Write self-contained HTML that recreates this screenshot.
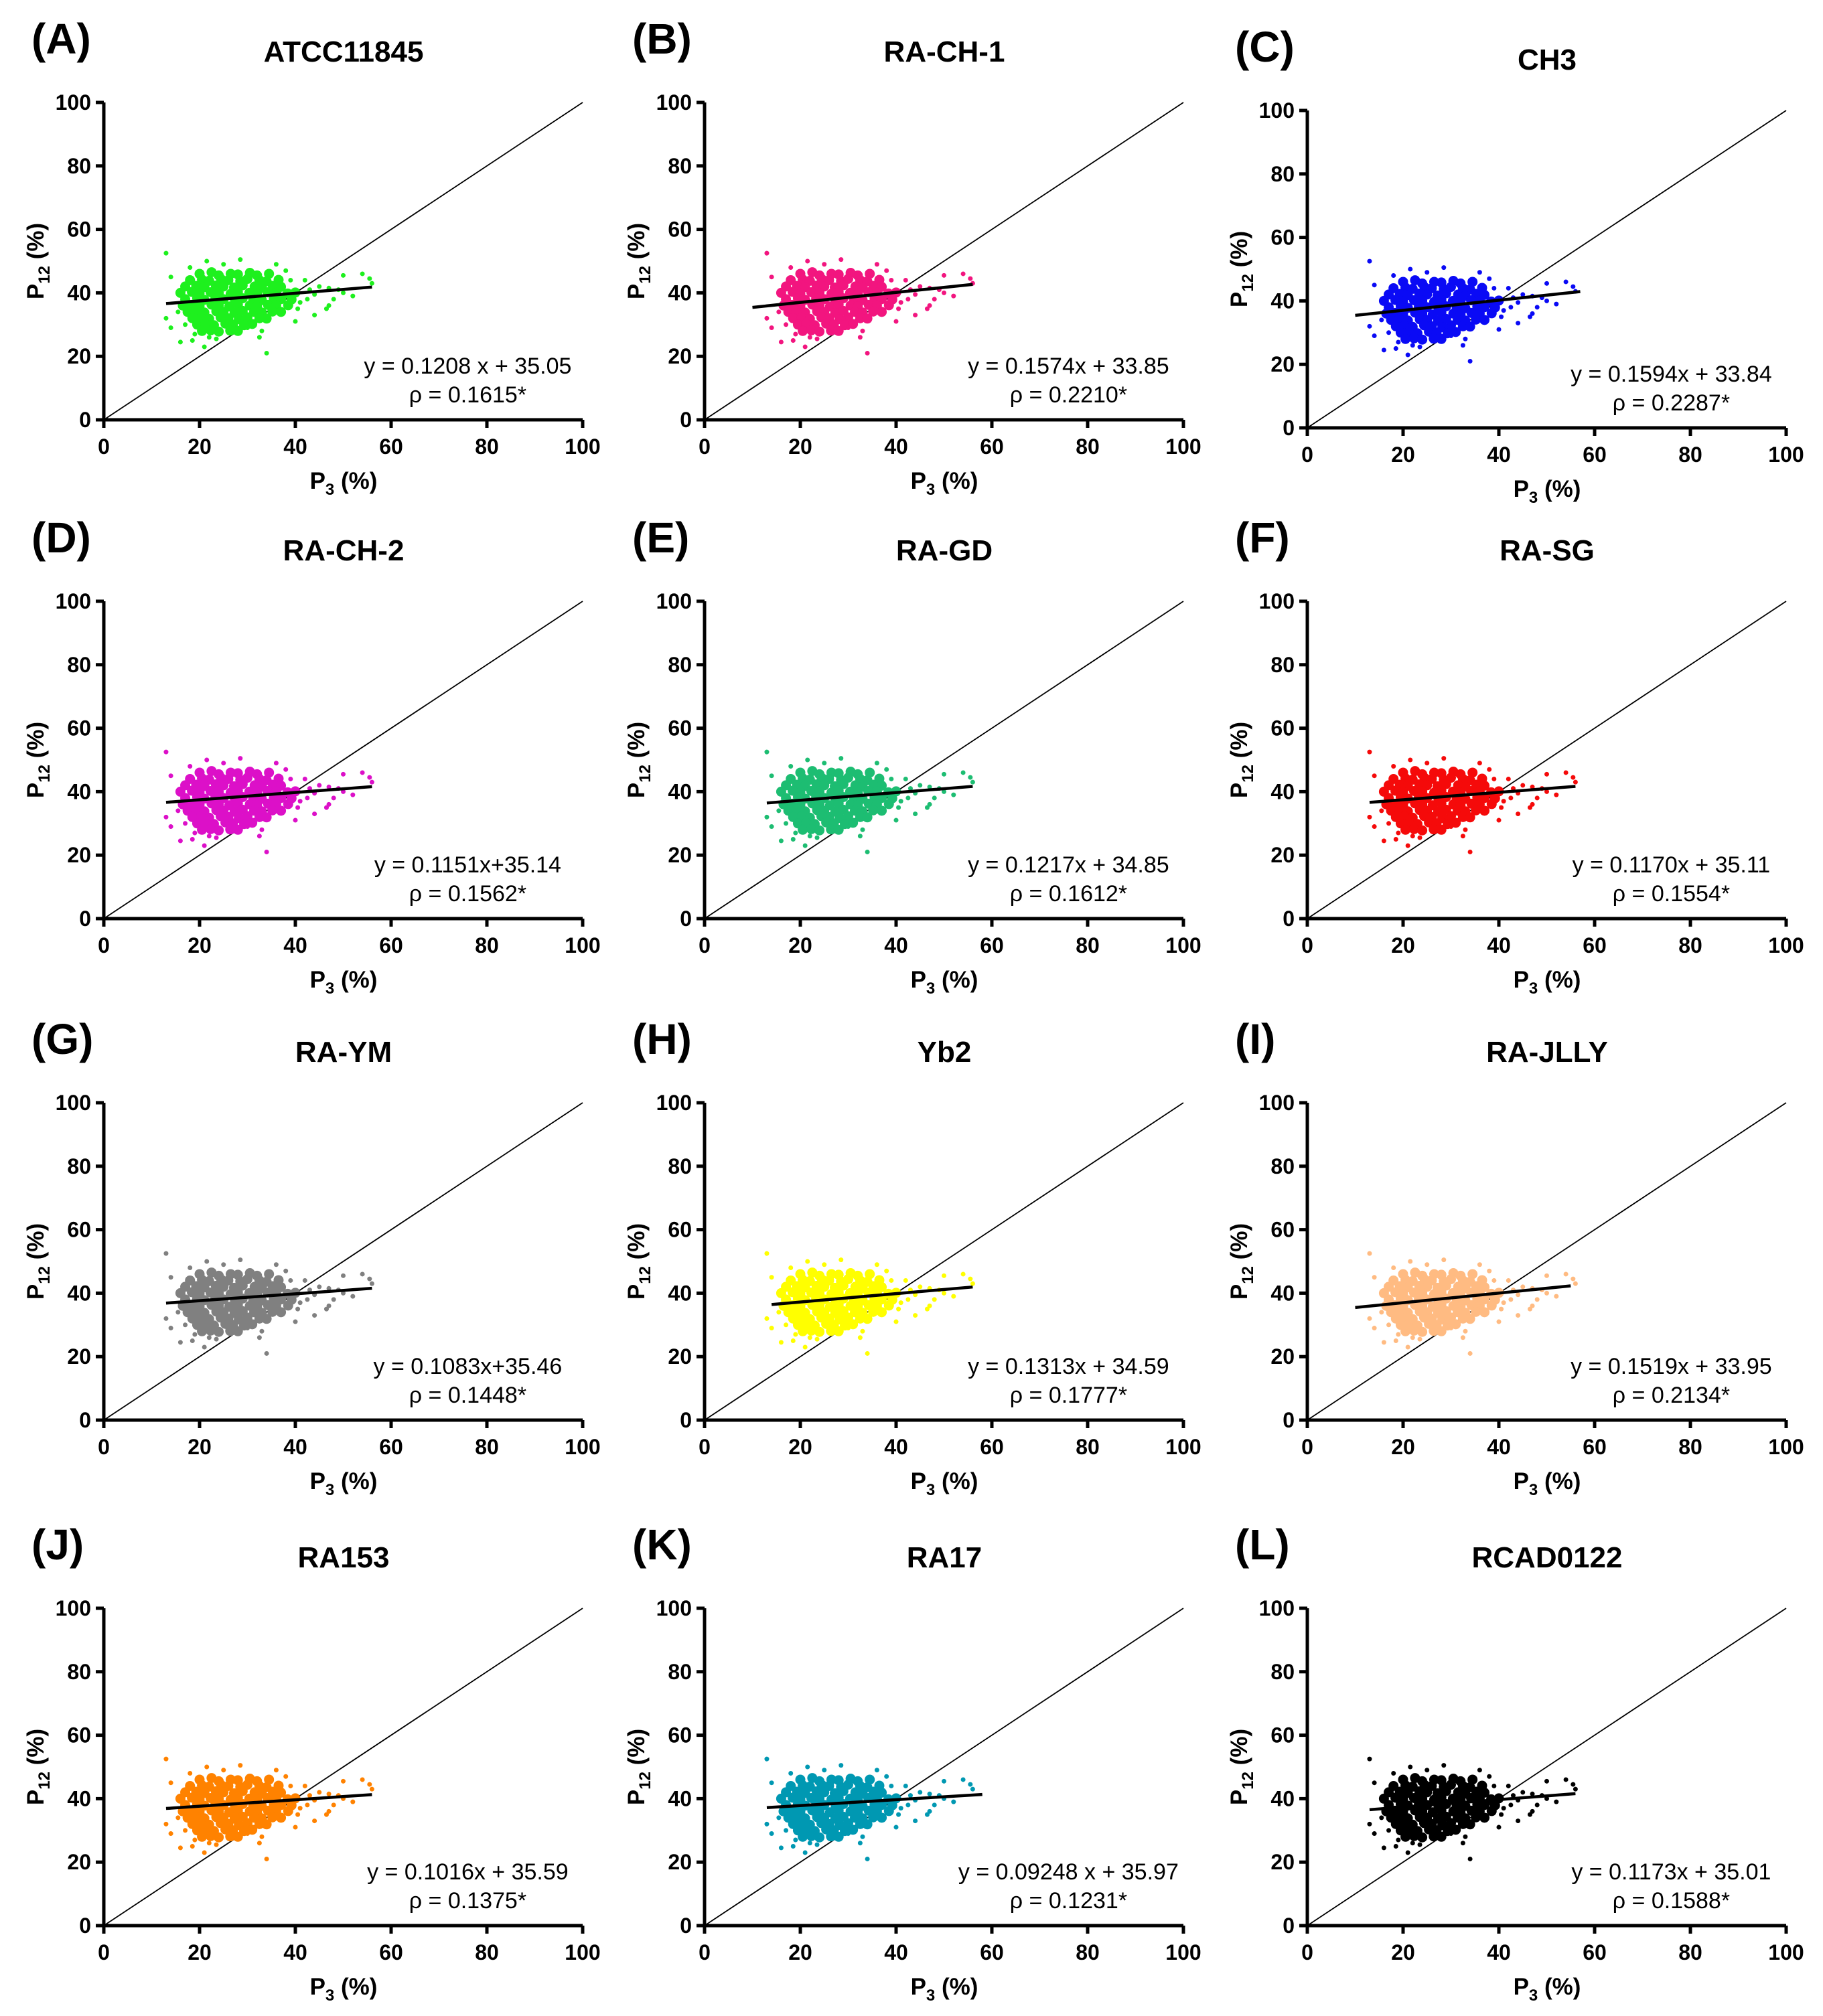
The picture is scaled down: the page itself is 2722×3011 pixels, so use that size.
<!DOCTYPE html>
<html><head><meta charset="utf-8"><style>
html,body{margin:0;padding:0;background:#fff}
svg{display:block}
text{font-family:"Liberation Sans",Arial,sans-serif}
</style></head><body>
<svg id="fig" width="2722" height="3011" viewBox="0 0 2722 3011" xmlns="http://www.w3.org/2000/svg"></svg>
<script>
const panelLetters=["A","B","C","D","E","F","G","H","I","J","K","L"];
const panelTitles=["ATCC11845","RA-CH-1","CH3","RA-CH-2","RA-GD","RA-SG","RA-YM","Yb2","RA-JLLY","RA153","RA17","RCAD0122"];
const panelColors=["#1ef01e","#f2157f","#0a0af5","#dc10c8","#1dbd72","#f50a0a","#808080","#ffff00","#ffbb82","#ff8200","#0098b2","#000000"];
const slopes=[0.1208,0.1574,0.1594,0.1151,0.1217,0.1170,0.1083,0.1313,0.1519,0.1016,0.09248,0.1173];
const intercepts=[35.05,33.85,33.84,35.14,34.85,35.11,35.46,34.59,33.95,35.59,35.97,35.01];
const fitMin=[13,10,10,13,13,13,13,14,10,13,13,13];
const fitMax=[56,56,57,56,56,56,56,56,55,56,58,56];
const eqLine1=["y = 0.1208 x + 35.05","y = 0.1574x + 33.85","y = 0.1594x + 33.84","y = 0.1151x+35.14","y = 0.1217x + 34.85","y = 0.1170x + 35.11","y = 0.1083x+35.46","y = 0.1313x + 34.59","y = 0.1519x + 33.95","y = 0.1016x + 35.59","y = 0.09248 x + 35.97","y = 0.1173x + 35.01"];
const eqLine2=["ρ = 0.1615*","ρ = 0.2210*","ρ = 0.2287*","ρ = 0.1562*","ρ = 0.1612*","ρ = 0.1554*","ρ = 0.1448*","ρ = 0.1777*","ρ = 0.2134*","ρ = 0.1375*","ρ = 0.1231*","ρ = 0.1588*"];
const tickValues=[0,20,40,60,80,100];
const tickLabels=["0","20","40","60","80","100"];
const corePts=[[20,46],[22.5,46.5],[24,45.5],[26.5,46],[28,45.8],[30.5,46.3],[32,45.5],[34.5,46],
[18,44],[20.5,44.2],[22,43.8],[24.5,44.3],[26,44],[28.5,43.7],[30,44.4],[32.5,44],[34,43.6],[36.5,44.1],
[17,42],[19.3,42.2],[21,41.8],[23.4,42.3],[25,42],[27.2,41.7],[29,42.4],[31.5,42],[33,41.6],[35.3,42.2],[37,41.9],
[16,40],[18.4,40.3],[20,39.8],[22.3,40.2],[24,40],[26.5,39.7],[28,40.3],[30.4,40],[32,39.7],[34.2,40.2],[36,40],[38.4,39.8],[40,40.1],
[17,38],[19.5,38.3],[21,37.8],[23.3,38.2],[25,38],[27.4,37.7],[29,38.3],[31.2,38],[33,37.7],[35.5,38.2],[37,38],[39.2,37.9],
[16.5,36],[18.3,36.2],[20,35.8],[22.5,36.3],[24,36],[26.2,35.7],[28,36.3],[30.5,36],[32,35.7],[34.3,36.2],[36,36],[38.5,36.1],
[17.5,34],[19.2,34.3],[21,33.8],[23.5,34.2],[25,34],[27.3,33.7],[29,34.3],[31.4,34],[33,33.8],[35.2,34.1],[37,34],
[18.5,32],[20.3,32.2],[22,31.8],[24.4,32.3],[26,32],[28.2,31.7],[30,32.3],[32.5,32],[34,31.9],
[19.5,30],[21.2,30.2],[23,29.8],[25.4,30.3],[27,30],[29.3,29.8],[31,30.2],
[20.5,28],[22.3,28.2],[24,27.8],[26.4,28.1],[28,28]];
const outPts=[[13,52.5],[13,32],[14,29],[14,45],[16,24.5],[15.5,34],[17,30],[18,48],[18.5,25],[19,27],[20,44],[21,23],[21.5,50],[22,26],[23.5,25.5],[25,49],[26,28],[28.5,50.5],[29,32],[30,29],[32.5,26],[33,28],[34,21],[36,49],[38,47],[40,31],[41,37],[42,44],[44,33],[45,42],[46.5,35],[47,36],[48,38],[49,41],[50,45.5],[50,40],[52,39],[54,46],[55.5,44.5],[56,43],[43,41],[44,39.5],[47,41.5],[40.5,35],[39,44],[42.5,38]];

const NS="http://www.w3.org/2000/svg";
const svg=document.getElementById('fig');
const colX=[155,1052,1952];
const rowY=[627,1372,2121,2876];
const W=715,H=474;
function mk(tag,attrs,parent){const e=document.createElementNS(NS,tag);for(const k in attrs)e.setAttribute(k,attrs[k]);parent.appendChild(e);return e;}

for(let i=0;i<12;i++){
  const ox=colX[i%3];
  const oy=rowY[Math.floor(i/3)]+(i===2?12:0);
  const sx=v=>ox+v/100*W;
  const sy=v=>oy-v/100*H;
  const g=mk('g',{},svg);
  
  
  const lab=mk('text',{x:ox-108,y:oy-547,'font-size':64,'font-weight':'bold',fill:'#000'},g);
  lab.textContent='('+panelLetters[i]+')';
  
  
  const tt=mk('text',{x:ox+358,y:oy-535,'font-size':44,'font-weight':'bold','text-anchor':'middle',fill:'#000'},g);
  tt.textContent=panelTitles[i];
  
  
  const dg=mk('line',{x1:sx(0),y1:sy(0),x2:sx(100),y2:sy(100),stroke:'#000','stroke-width':1.8},g);
  
  
  const pg=mk('g',{fill:panelColors[i]},g);
  
  
  corePts.forEach(p=>{const c=mk('circle',{cx:sx(p[0]),cy:sy(p[1]),r:7.5},pg);
    
    });
  outPts.forEach(p=>{const c=mk('circle',{cx:sx(p[0]),cy:sy(p[1]),r:3.5},pg);
    
    });
  const f=mk('line',{x1:sx(fitMin[i]),y1:sy(slopes[i]*fitMin[i]+intercepts[i]),x2:sx(fitMax[i]),y2:sy(slopes[i]*fitMax[i]+intercepts[i]),stroke:'#000','stroke-width':4.5},g);
  
  
  const ax=mk('path',{d:`M${ox},${sy(100)}V${oy}H${sx(100)}`,fill:'none',stroke:'#000','stroke-width':5},g);
  
  
  tickValues.forEach((t,k)=>{
    mk('line',{x1:sx(t),y1:oy,x2:sx(t),y2:oy+12,stroke:'#000','stroke-width':5},g);
    mk('line',{x1:ox,y1:sy(t),x2:ox-12,y2:sy(t),stroke:'#000','stroke-width':5},g);
    const xl=mk('text',{x:sx(t),y:oy+51,'font-size':32,'font-weight':'bold','text-anchor':'middle'},g);
    xl.textContent=tickLabels[k];
    
    
    const yl=mk('text',{x:ox-19,y:sy(t)+11,'font-size':32,'font-weight':'bold','text-anchor':'end'},g);
    yl.textContent=tickLabels[k];
    
    
  });
  const xt=mk('text',{x:ox+358,y:oy+103,'font-size':35,'font-weight':'bold','text-anchor':'middle'},g);
  xt.innerHTML='P<tspan font-size="24" dy="9">3</tspan><tspan dy="-9"> (%)</tspan>';
  
  
  const yt=mk('text',{x:0,y:0,'font-size':35,'font-weight':'bold','text-anchor':'middle',transform:`translate(${ox-90},${oy-237}) rotate(-90)`},g);
  yt.innerHTML='P<tspan font-size="24" dy="9">12</tspan><tspan dy="-9"> (%)</tspan>';
  
  
  const e1=mk('text',{x:sx(76),y:oy-69,'font-size':34,'text-anchor':'middle'},g);
  e1.textContent=eqLine1[i];
  
  
  const e2=mk('text',{x:sx(76),y:oy-26,'font-size':34,'text-anchor':'middle'},g);
  e2.textContent=eqLine2[i];
  
  
}
</script>
</body></html>
